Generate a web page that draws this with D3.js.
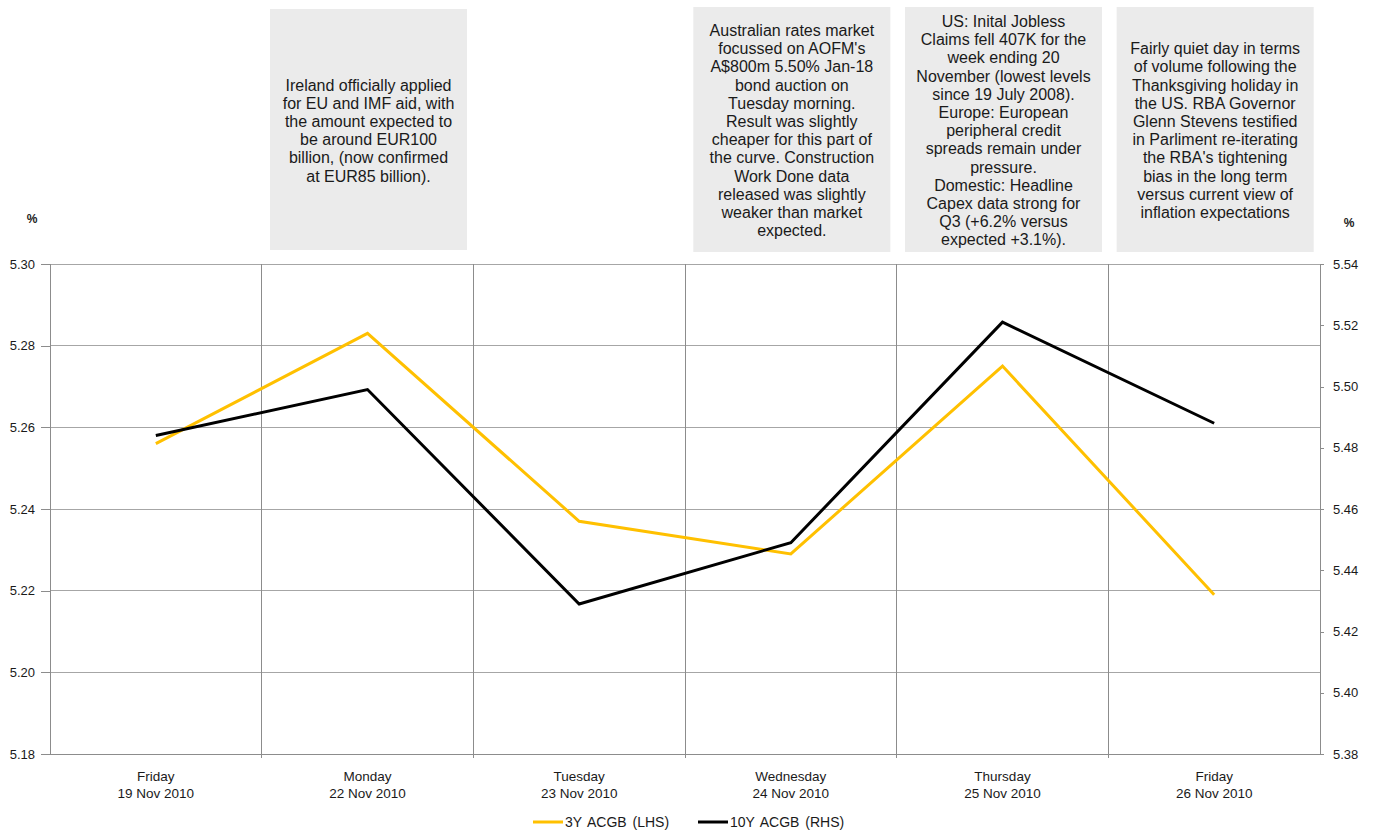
<!DOCTYPE html>
<html>
<head>
<meta charset="utf-8">
<script src="https://cdn.jsdelivr.net/npm/d3@7/dist/d3.min.js"></script>
<style>
  html, body { margin: 0; padding: 0; background: #fff; }
  svg { display: block; font-family: Arial, "Liberation Sans", sans-serif; }
</style>
</head>
<body>
<svg id="chart" width="1373" height="833"></svg>
<script>
// ---- data ----
const days = ["Friday", "Monday", "Tuesday", "Wednesday", "Thursday", "Friday"];
const dates = ["19 Nov 2010", "22 Nov 2010", "23 Nov 2010", "24 Nov 2010", "25 Nov 2010", "26 Nov 2010"];
const y3 = [5.256, 5.283, 5.237, 5.229, 5.275, 5.219];
const y10 = [5.484, 5.499, 5.429, 5.449, 5.521, 5.488];
const leftTicks = [5.18, 5.20, 5.22, 5.24, 5.26, 5.28, 5.30];
const rightTicks = [5.38, 5.40, 5.42, 5.44, 5.46, 5.48, 5.50, 5.52, 5.54];
const seriesNames = ["3Y ACGB (LHS)", "10Y ACGB (RHS)"];
const noteColumns = [1, 3, 4, 5];
const noteTexts = [
  ["Ireland officially applied", "for EU and IMF aid, with", "the amount expected to", "be around EUR100", "billion, (now confirmed", "at EUR85 billion)."],
  ["Australian rates market", "focussed on AOFM's", "A$800m 5.50% Jan-18", "bond auction on", "Tuesday morning.", "Result was slightly", "cheaper for this part of", "the curve. Construction", "Work Done data", "released was slightly", "weaker than market", "expected."],
  ["US: Inital Jobless", "Claims fell 407K for the", "week ending 20", "November (lowest levels", "since 19 July 2008).", "Europe: European", "peripheral credit", "spreads remain under", "pressure.", "Domestic: Headline", "Capex data strong for", "Q3 (+6.2% versus", "expected +3.1%)."],
  ["Fairly quiet day in terms", "of volume following  the", "Thanksgiving holiday in", "the US. RBA Governor", "Glenn Stevens testified", "in Parliment re-iterating", "the RBA's tightening", "bias in the long term", "versus current view of", "inflation expectations"]
];

// ---- layout ----
const svg = d3.select("#chart");
const L = 50, R = 1320, T = 264, B = 754;
const idx = d3.range(days.length);
const xBand = d3.scaleBand().domain(idx).range([L, R]).padding(0);
const xc = i => xBand(i) + xBand.bandwidth() / 2;
const yL = d3.scaleLinear().domain([5.18, 5.30]).range([B, T]);
const yR = d3.scaleLinear().domain([5.38, 5.54]).range([B, T]);

const gridColor = "#a6a6a6";
const axisColor = "#8c8c8c";

// annotation boxes
const boxW = 197;
noteTexts.forEach((lines, k) => {
  const col = noteColumns[k];
  const cx = xc(col) + 1;
  const top = k === 0 ? 9 : 7;
  const bot = k === 0 ? 250 : 252;
  svg.append("rect")
    .attr("x", cx - boxW / 2).attr("y", top)
    .attr("width", boxW).attr("height", bot - top)
    .attr("fill", "#ebebeb");
  const lh = 18.2;
  const midY = (top + bot) / 2 + 1;
  const startY = midY - (lines.length - 1) * lh / 2;
  const t = svg.append("text")
    .attr("text-anchor", "middle")
    .attr("font-size", 16)
    .attr("fill", "#1a1a1a");
  lines.forEach((ln, j) => {
    t.append("tspan").attr("x", cx).attr("y", startY + j * lh).attr("dy", "0.35em").text(ln);
  });
});

// horizontal gridlines (left axis)
svg.append("g").selectAll("line").data(leftTicks).join("line")
  .attr("x1", L).attr("x2", R)
  .attr("y1", d => yL(d)).attr("y2", d => yL(d))
  .attr("stroke", gridColor).attr("stroke-width", 1).attr("shape-rendering", "crispEdges");

// vertical gridlines at category boundaries
svg.append("g").selectAll("line").data(idx.slice(1)).join("line")
  .attr("x1", d => xBand(d)).attr("x2", d => xBand(d))
  .attr("y1", T).attr("y2", B + 4)
  .attr("stroke", axisColor).attr("stroke-width", 1).attr("shape-rendering", "crispEdges");

// left axis
const gL = svg.append("g").attr("transform", `translate(${L},0)`)
  .call(d3.axisLeft(yL).tickValues(leftTicks).tickFormat(d3.format(".2f")).tickSize(9).tickPadding(6));
// right axis
const gR = svg.append("g").attr("transform", `translate(${R},0)`)
  .call(d3.axisRight(yR).tickValues(rightTicks).tickFormat(d3.format(".2f")).tickSize(4).tickPadding(9));
[gL, gR].forEach(g => {
  g.select(".domain").attr("stroke", axisColor).attr("shape-rendering", "crispEdges");
  g.selectAll(".tick line").attr("stroke", axisColor).attr("shape-rendering", "crispEdges");
  g.selectAll(".tick text").attr("font-size", 13).attr("fill", "#1a1a1a")
    .attr("font-family", "Arial, 'Liberation Sans', sans-serif");
});

// bottom axis line
svg.append("line").attr("x1", L).attr("x2", R).attr("y1", B).attr("y2", B)
  .attr("stroke", axisColor).attr("shape-rendering", "crispEdges");

// x labels
const xl = svg.append("g").selectAll("text").data(idx).join("text")
  .attr("text-anchor", "middle").attr("font-size", 13.5).attr("fill", "#1a1a1a");
xl.append("tspan").attr("x", d => xc(d)).attr("y", 781).text(d => days[d]);
xl.append("tspan").attr("x", d => xc(d)).attr("y", 798).text(d => dates[d]);

// % units
svg.append("text").attr("x", 32).attr("y", 223).attr("text-anchor", "middle")
  .attr("font-size", 12).attr("font-weight", "bold").attr("fill", "#1a1a1a").text("%");
svg.append("text").attr("x", 1349).attr("y", 227).attr("text-anchor", "middle")
  .attr("font-size", 12).attr("font-weight", "bold").attr("fill", "#1a1a1a").text("%");

// lines
const line3 = d3.line().x((d, i) => xc(i)).y(d => yL(d));
const line10 = d3.line().x((d, i) => xc(i)).y(d => yR(d));
svg.append("path").attr("d", line3(y3)).attr("fill", "none")
  .attr("stroke", "#ffc000").attr("stroke-width", 3).attr("stroke-linejoin", "miter");
svg.append("path").attr("d", line10(y10)).attr("fill", "none")
  .attr("stroke", "#000000").attr("stroke-width", 3).attr("stroke-linejoin", "miter");

// legend
const legend = [
  { name: seriesNames[0], color: "#ffc000", x: 533 },
  { name: seriesNames[1], color: "#000000", x: 698 }
];
const lg = svg.append("g").selectAll("g").data(legend).join("g")
  .attr("transform", d => `translate(${d.x},822)`);
lg.append("line").attr("x1", 0).attr("x2", 30).attr("y1", 0).attr("y2", 0)
  .attr("stroke", d => d.color).attr("stroke-width", 3);
lg.append("text").attr("x", 32).attr("y", 0).attr("dy", "0.35em")
  .attr("font-size", 14).attr("word-spacing", 2).attr("fill", "#1a1a1a").text(d => d.name);
</script>
</body>
</html>
